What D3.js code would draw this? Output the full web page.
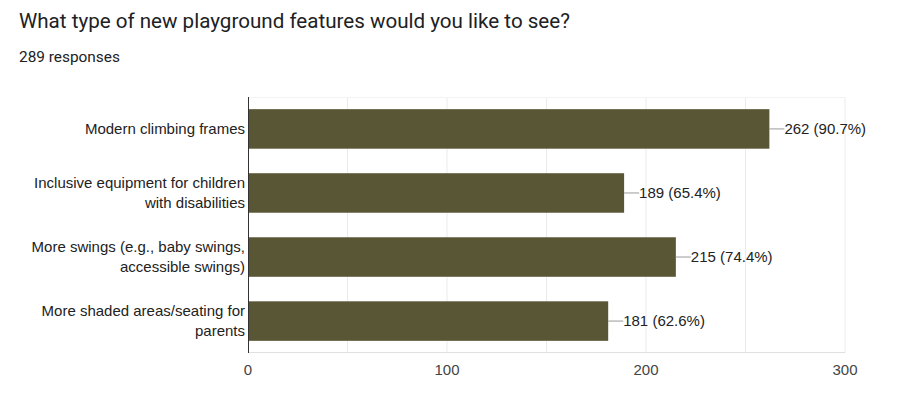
<!DOCTYPE html>
<html><head><meta charset="utf-8">
<script src="https://cdn.jsdelivr.net/npm/d3@7"></script>
<style>
body{margin:0;background:#fff;}
svg{display:block;}
</style></head>
<body>
<svg id="chart" width="917" height="405"></svg>
<script>
const title = "What type of new playground features would you like to see?";
const subtitle = "289 responses";
const categories = [
  ["Modern climbing frames"],
  ["Inclusive equipment for children", "with disabilities"],
  ["More swings (e.g., baby swings,", "accessible swings)"],
  ["More shaded areas/seating for", "parents"]
];
const values = [262, 189, 215, 181];
const percents = ["90.7%", "65.4%", "74.4%", "62.6%"];
const tickValues = [0, 100, 200, 300];
const gridValues = [50, 100, 150, 200, 250, 300];

(function(){
const svg = d3.select("#chart");
svg.append("rect").attr("width",917).attr("height",405).attr("fill","#fff");

svg.append("text").attr("x",19).attr("y",28)
  .attr("font-family","Roboto, 'Noto Sans', sans-serif").attr("font-size",20.6)
  .attr("fill","#202124").text(title);
svg.append("text").attr("x",19).attr("y",62)
  .attr("font-family","Roboto, 'Noto Sans', sans-serif").attr("font-size",15.4)
  .attr("fill","#202124").text(subtitle);

const pLeft = 248, pRight = 845, pTop = 97, pBottom = 353;
const x = d3.scaleLinear().domain([0,300]).range([pLeft,pRight]);
const y = d3.scaleBand().domain(d3.range(values.length)).range([pTop,pBottom])
  .paddingInner(0.383).paddingOuter(0.19);

const font = "'Liberation Sans', Arial, sans-serif";
const fs = 15;

svg.append("g").selectAll("line").data(gridValues).join("line")
  .attr("x1",d=>x(d)).attr("x2",d=>x(d)).attr("y1",pTop).attr("y2",pBottom)
  .attr("stroke","#ebebeb").attr("stroke-width",1);
svg.append("line").attr("x1",pLeft).attr("x2",pRight).attr("y1",pBottom-0.5).attr("y2",pBottom-0.5)
  .attr("stroke","#e0e0e0");
svg.append("line").attr("x1",pLeft).attr("x2",pRight).attr("y1",pTop+0.5).attr("y2",pTop+0.5)
  .attr("stroke","#f3f3f3");

svg.append("g").selectAll("rect").data(values).join("rect")
  .attr("x",x(0)).attr("y",(d,i)=>y(i))
  .attr("width",d=>x(d)-x(0)).attr("height",y.bandwidth())
  .attr("fill","#595636");

svg.append("line").attr("x1",pLeft+0.5).attr("x2",pLeft+0.5).attr("y1",pTop).attr("y2",pBottom)
  .attr("stroke","#333").attr("stroke-width",1);

const vg = svg.append("g");
values.forEach((v,i)=>{
  const cy = y(i)+y.bandwidth()/2;
  vg.append("line").attr("x1",x(v)).attr("x2",x(v)+15).attr("y1",cy).attr("y2",cy)
    .attr("stroke","#999").attr("stroke-width",1);
  vg.append("text").attr("x",x(v)+15).attr("y",cy).attr("dy","0.35em")
    .attr("font-family",font).attr("font-size",fs).attr("fill","#222")
    .text(v + " (" + percents[i] + ")");
});

const cg = svg.append("g");
categories.forEach((lines,i)=>{
  const cy = y(i)+y.bandwidth()/2;
  const lh = 20;
  const start = cy - (lines.length-1)*lh/2;
  lines.forEach((t,j)=>{
    cg.append("text").attr("x",pLeft-3).attr("y",start+j*lh).attr("dy","0.35em")
      .attr("text-anchor","end").attr("font-family",font).attr("font-size",fs)
      .attr("fill","#222").text(t);
  });
});

svg.append("g").selectAll("text").data(tickValues).join("text")
  .attr("x",d=>x(d)).attr("y",370).attr("dy","0.35em").attr("text-anchor","middle")
  .attr("font-family",font).attr("font-size",fs).attr("fill","#444").text(d=>d);
})();
</script>
</body></html>
